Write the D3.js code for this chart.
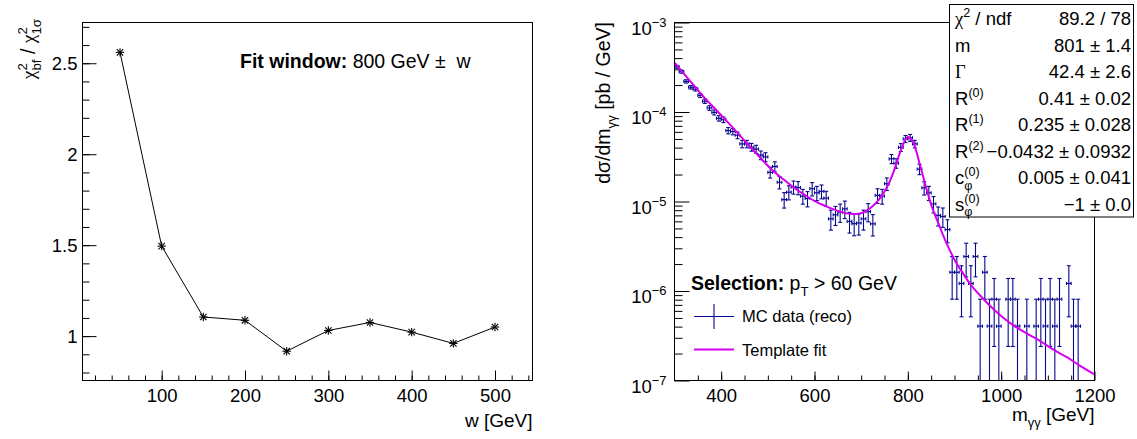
<!DOCTYPE html>
<html>
<head>
<meta charset="utf-8">
<script src="https://cdn.jsdelivr.net/npm/d3@7"></script>
<style>
  body { margin: 0; background: #fff; }
  svg { display: block; }
  text { font-family: "Liberation Sans", Arial, Helvetica, sans-serif; fill: #000; white-space: pre; }
</style>
</head>
<body>
<svg id="canvas" width="1137" height="439"></svg>
<script>
// ---------- left pad: chi2 ratio vs fit-window half width ----------
const windowWidths = [50, 100, 150, 200, 250, 300, 350, 400, 450, 500];
const chi2Ratio    = [2.56, 1.495, 1.105, 1.087, 0.917, 1.031, 1.075, 1.022, 0.960, 1.050];
const leftXTicks   = [100, 200, 300, 400, 500];
const leftYTicks   = [1, 1.5, 2, 2.5];

// ---------- right pad: diphoton mass spectrum with template fit ----------
const massBins = [305,315,325,335,345,355,365,375,385,395,405,415,425,435,445,455,465,475,485,495,
                  505,515,525,535,545,555,565,575,585,595,605,615,625,635,645,655,665,675,685,695,
                  705,715,725,735,745,755,765,775,785,795,805,815,825,835,845,855,865,875,885,895,
                  905,915,925,935,945,955,965,975,985,995,1015,1025,1035,1055,1075,1085,1095,1105,1115,1125,
                  1145,1155,1165];
const xsec = [3.2e-4,2.82e-4,2.2e-4,1.89e-4,1.8e-4,1.53e-4,1.32e-4,1.11e-4,9.9e-5,8.5e-5,
              8.2e-5,6.2e-5,6.05e-5,5.5e-5,4.4e-5,4.4e-5,4.05e-5,3.85e-5,3.3e-5,3.15e-5,
              2.12e-5,2.46e-5,1.64e-5,1.05e-5,1.27e-5,1.45e-5,1.43e-5,1.15e-5,1.08e-5,1.39e-5,
              1.25e-5,1.3e-5,1.09e-5,6.4e-6,7.1e-6,7.6e-6,8.27e-6,6.0e-6,5.65e-6,5.75e-6,
              6.4e-6,7.7e-6,5.63e-6,1.17e-5,1.15e-5,1.58e-5,3.0e-5,2.68e-5,4.03e-5,5.01e-5,
              5.15e-5,4.4e-5,2.3e-5,1.42e-5,1.25e-5,9.4e-6,7.0e-6,6.8e-6,4.86e-6,1.62e-6,
              1.62e-6,1.215e-6,2.43e-6,1.215e-6,2.43e-6,4.05e-7,1.62e-6,4.05e-7,8.1e-7,4.05e-7,
              8.1e-7,8.1e-7,4.05e-7,4.05e-7,4.05e-7,8.1e-7,4.05e-7,8.1e-7,4.05e-7,8.1e-7,
              1.215e-6,4.05e-7,4.05e-7];
const xsecErr = [1.14e-5,1.07e-5,9.4e-6,8.7e-6,8.5e-6,7.9e-6,7.3e-6,6.7e-6,6.3e-6,5.9e-6,
                 5.8e-6,5.0e-6,4.9e-6,4.7e-6,4.2e-6,4.2e-6,4.05e-6,3.95e-6,3.66e-6,3.57e-6,
                 2.93e-6,3.16e-6,2.58e-6,2.06e-6,2.27e-6,2.42e-6,2.41e-6,2.16e-6,2.09e-6,2.37e-6,
                 2.25e-6,2.29e-6,2.1e-6,1.61e-6,1.7e-6,1.75e-6,1.83e-6,1.56e-6,1.51e-6,1.53e-6,
                 1.61e-6,1.77e-6,1.51e-6,2.18e-6,2.16e-6,2.53e-6,3.49e-6,3.29e-6,4.04e-6,4.5e-6,
                 4.57e-6,4.22e-6,3.05e-6,2.4e-6,2.25e-6,1.95e-6,1.68e-6,1.66e-6,1.4e-6,8.1e-7,
                 8.1e-7,7.0e-7,9.9e-7,7.0e-7,9.9e-7,4.05e-7,8.1e-7,4.05e-7,5.7e-7,4.05e-7,
                 5.7e-7,5.7e-7,4.05e-7,4.05e-7,4.05e-7,5.7e-7,4.05e-7,5.7e-7,4.05e-7,5.7e-7,
                 7.0e-7,4.05e-7,4.05e-7];
const binHalfWidth = 5;

const fitMass = [300,330,363,390,416,440,456,480,500,516,534,556,580,606,630,659,681,700,709,725,
                 738,750,759,770,785,800,813,827,838,849,858,866,875,885,900,918,935,955,977,1005,
                 1034,1060,1084,1110,1141,1170,1200];
const fitXsec = [3.55e-4,2.33e-4,1.466e-4,1.047e-4,7.5e-5,5.47e-5,4.42e-5,3.24e-5,2.51e-5,2.09e-5,
                 1.76e-5,1.43e-5,1.175e-5,9.77e-6,8.61e-6,7.59e-6,7.24e-6,7.41e-6,7.76e-6,8.91e-6,
                 1.047e-5,1.29e-5,1.58e-5,2.19e-5,3.72e-5,5.25e-5,4.37e-5,2.45e-5,1.51e-5,9.55e-6,
                 7.08e-6,5.62e-6,4.27e-6,3.24e-6,2.24e-6,1.58e-6,1.17e-6,8.9e-7,6.76e-7,5.0e-7,
                 3.89e-7,3.24e-7,2.75e-7,2.24e-7,1.82e-7,1.45e-7,1.17e-7];

const rightXTicks  = [400, 600, 800, 1000, 1200];
const rightDecades = [-7, -6, -5, -4, -3];

const statLabels = [
  [{t:"χ",serif:true},{t:"2",k:"sup"},{t:" / ndf"}],
  [{t:"m"}],
  [{t:"Γ",serif:true}],
  [{t:"R"},{t:"(0)",k:"sup"}],
  [{t:"R"},{t:"(1)",k:"sup"}],
  [{t:"R"},{t:"(2)",k:"sup"}],
  [{t:"c"},{t:"(0)",k:"sup"},{t:"φ",k:"stack"}],
  [{t:"s"},{t:"(0)",k:"sup"},{t:"φ",k:"stack"}]
];
const statValues = ["89.2 / 78", "801 ± 1.4", "42.4 ± 2.6", "0.41 ± 0.02", "0.235 ± 0.028",
                    "−0.0432 ± 0.0932", "0.005 ± 0.041", "−1 ± 0.0"];

const svg = d3.select("#canvas");
const TICK_FS = 18.5;
const TICK_LABEL_Y = 21.5;   // baseline offset below the frame

// Sequence of text pieces with super/subscripts; returns group and total width.
function rich(parent, parts, size, weightBold) {
  const g = parent.append("g");
  let x = 0, supStart = 0, supW = 0;
  parts.forEach(p => {
    const small = p.k === "sup" || p.k === "sub" || p.k === "stack";
    const fs = small ? size * 0.68 : size;
    const dy = p.k === "sup" ? -size * 0.42 : (p.k === "sub" || p.k === "stack") ? size * 0.3 : 0;
    const px = p.k === "stack" ? supStart : x;
    const t = g.append("text")
      .attr("x", px).attr("y", dy)
      .attr("font-size", fs)
      .text(p.t);
    if (p.bold || weightBold) t.attr("font-weight", "bold");
    if (p.serif) t.style("font-family", "'Liberation Serif', 'Times New Roman', serif");
    const w = t.node().getComputedTextLength();
    if (p.k === "sup") { supStart = px; supW = w; x = px + w; }
    else if (p.k === "stack") { x = Math.max(supStart + supW, px + w); }
    else x = px + w;
  });
  return { g, width: x };
}

// ================= LEFT PAD =================
const xL = d3.scaleLinear([5, 545], [82.5, 532.5]);
const yL = d3.scaleLinear([0.756, 2.724], [380.5, 22.5]);

const left = svg.append("g");

// minor ticks
left.append("g").attr("transform", "translate(0,380.5)")
  .call(d3.axisBottom(xL).tickValues(d3.range(20, 545, 20)).tickSize(-5).tickFormat(""))
  .call(g => g.select(".domain").remove());
left.append("g").attr("transform", "translate(82.5,0)")
  .call(d3.axisLeft(yL).tickValues(d3.range(0.8, 2.72, 0.1)).tickSize(-7).tickFormat(""))
  .call(g => g.select(".domain").remove());
// major ticks + labels
left.append("g").attr("transform", "translate(0,380.5)")
  .call(d3.axisBottom(xL).tickValues(leftXTicks).tickSize(-10).tickFormat(d3.format("d")))
  .call(g => g.select(".domain").remove())
  .call(g => g.selectAll("text").attr("y", TICK_LABEL_Y).attr("dy", 0).attr("font-size", TICK_FS).attr("fill", "#000"));
left.append("g").attr("transform", "translate(82.5,0)")
  .call(d3.axisLeft(yL).tickValues(leftYTicks).tickSize(-14).tickFormat(d => String(d)))
  .call(g => g.select(".domain").remove())
  .call(g => g.selectAll("text").attr("x", -5).attr("dy", "0.36em").attr("font-size", TICK_FS).attr("fill", "#000"));
left.selectAll(".tick line").attr("stroke", "#000");
left.selectAll(".tick text").attr("font-family", null);

left.append("rect").attr("x", 82.5).attr("y", 22.5).attr("width", 450).attr("height", 358)
  .attr("fill", "none").attr("stroke", "#000").attr("stroke-width", 1);

// curve + star markers
left.append("path")
  .datum(windowWidths.map((w, i) => [w, chi2Ratio[i]]))
  .attr("fill", "none").attr("stroke", "#000").attr("stroke-width", 1)
  .attr("d", d3.line().x(d => xL(d[0])).y(d => yL(d[1])));
const star = left.selectAll(".star").data(windowWidths.map((w, i) => [w, chi2Ratio[i]]))
  .join("g").attr("class", "star")
  .attr("transform", d => `translate(${xL(d[0])},${yL(d[1])})`);
const r = 4.2, rd = 3.2;
[[-r,0,r,0],[0,-r,0,r],[-rd,-rd,rd,rd],[-rd,rd,rd,-rd]].forEach(s => {
  star.append("line").attr("x1", s[0]).attr("y1", s[1]).attr("x2", s[2]).attr("y2", s[3])
    .attr("stroke", "#000").attr("stroke-width", 1.1);
});

// annotation
rich(svg.append("g").attr("transform", "translate(240,68)"),
  [{t:"Fit window:", bold:true},{t:" 800 GeV ±  w"}], 19.5);

// axis titles
{
  svg.append("text").attr("x", 532.5).attr("y", 427).attr("text-anchor", "end")
    .attr("font-size", 19).text("w [GeV]");
  const holder = svg.append("g").attr("transform", "translate(35,19) rotate(-90)");
  const lab = rich(holder, [{t:"χ",serif:true},{t:"2",k:"sup"},{t:"bf",k:"stack"},{t:" / "},
                            {t:"χ",serif:true},{t:"2",k:"sup"},{t:"1σ",k:"stack"}], 19.5);
  lab.g.attr("transform", `translate(${-lab.width},0)`);
}

// ================= RIGHT PAD =================
const xR = d3.scaleLinear([300, 1200], [674.5, 1094.5]);
const yR = d3.scaleLog([1e-7, 1e-3], [380.5, 22.5]);
const right = svg.append("g");

const logMinor = [];
rightDecades.slice(0, -1).forEach(e => { for (let k = 2; k <= 9; k++) logMinor.push(k * Math.pow(10, e)); });

right.append("g").attr("transform", "translate(0,380.5)")
  .call(d3.axisBottom(xR).tickValues(d3.range(350, 1200, 50)).tickSize(-5).tickFormat(""))
  .call(g => g.select(".domain").remove());
right.append("g").attr("transform", "translate(674.5,0)")
  .call(d3.axisLeft(yR).tickValues(logMinor).tickSize(-8).tickFormat(""))
  .call(g => g.select(".domain").remove());
right.append("g").attr("transform", "translate(0,380.5)")
  .call(d3.axisBottom(xR).tickValues(rightXTicks).tickSize(-9).tickFormat(d3.format("d")))
  .call(g => g.select(".domain").remove())
  .call(g => g.selectAll("text").attr("y", TICK_LABEL_Y).attr("dy", 0).attr("font-size", TICK_FS).attr("fill", "#000"));
right.append("g").attr("transform", "translate(674.5,0)")
  .call(d3.axisLeft(yR).tickValues(rightDecades.map(e => Math.pow(10, e))).tickSize(-15).tickFormat(""))
  .call(g => g.select(".domain").remove())
  .call(g => g.selectAll(".tick").each(function(d) {
    const e = Math.round(Math.log10(d));
    const t = d3.select(this).append("text").attr("text-anchor", "end")
      .attr("x", -8).attr("y", 11.5).attr("font-size", TICK_FS);
    t.append("tspan").text("10");
    t.append("tspan").attr("dy", -8).attr("font-size", TICK_FS * 0.7).text("−" + Math.abs(e));
  }));
right.selectAll(".tick line").attr("stroke", "#000");
right.selectAll(".tick text").attr("font-family", null);

// data points with error bars
const pts = massBins.map((m, i) => ({ m, v: xsec[i], e: xsecErr[i] }));
const blue = "#06068f";
const yLo = d => yR(Math.max(d.v - d.e, 1e-7));
const yHi = d => yR(d.v + d.e);
const dp = right.append("g").attr("stroke", blue).attr("stroke-width", 1.1).attr("fill", "none");
const pg = dp.selectAll("g").data(pts).join("g");
pg.append("line").attr("x1", d => xR(d.m)).attr("x2", d => xR(d.m)).attr("y1", yLo).attr("y2", yHi);
pg.append("line").attr("x1", d => xR(d.m - binHalfWidth)).attr("x2", d => xR(d.m + binHalfWidth))
  .attr("y1", d => yR(d.v)).attr("y2", d => yR(d.v));
// end caps
pg.append("line").attr("x1", d => xR(d.m) - 2).attr("x2", d => xR(d.m) + 2).attr("y1", yHi).attr("y2", yHi);
pg.filter(d => d.v - d.e > 1e-7).append("line")
  .attr("x1", d => xR(d.m) - 2).attr("x2", d => xR(d.m) + 2).attr("y1", yLo).attr("y2", yLo);
pg.append("line").attr("x1", d => xR(d.m - binHalfWidth)).attr("x2", d => xR(d.m - binHalfWidth))
  .attr("y1", d => yR(d.v) - 1.6).attr("y2", d => yR(d.v) + 1.6);
pg.append("line").attr("x1", d => xR(d.m + binHalfWidth)).attr("x2", d => xR(d.m + binHalfWidth))
  .attr("y1", d => yR(d.v) - 1.6).attr("y2", d => yR(d.v) + 1.6);

// template fit
const magenta = "#d600f0";
right.append("path")
  .datum(fitMass.map((m, i) => [m, fitXsec[i]]))
  .attr("fill", "none").attr("stroke", magenta).attr("stroke-width", 2)
  .attr("d", d3.line().x(d => xR(d[0])).y(d => yR(d[1])).curve(d3.curveMonotoneX));

right.append("rect").attr("x", 674.5).attr("y", 22.5).attr("width", 420).attr("height", 358)
  .attr("fill", "none").attr("stroke", "#000").attr("stroke-width", 1);

// legend
{
  rich(svg.append("g").attr("transform", "translate(691,290)"),
    [{t:"Selection:", bold:true},{t:" p"},{t:"T",k:"sub"},{t:" > 60 GeV"}], 19.5);
  const lg = svg.append("g");
  lg.append("line").attr("x1", 694).attr("x2", 734).attr("y1", 316.5).attr("y2", 316.5)
    .attr("stroke", blue).attr("stroke-width", 1.1);
  lg.append("line").attr("x1", 714).attr("x2", 714).attr("y1", 304).attr("y2", 329)
    .attr("stroke", blue).attr("stroke-width", 1.1);
  lg.append("text").attr("x", 742).attr("y", 322).attr("font-size", 16.5).text("MC data (reco)");
  lg.append("line").attr("x1", 694).attr("x2", 734).attr("y1", 349.5).attr("y2", 349.5)
    .attr("stroke", magenta).attr("stroke-width", 2);
  lg.append("text").attr("x", 742).attr("y", 356).attr("font-size", 16.5).text("Template fit");
}

// axis titles
{
  const holder = svg.append("g").attr("transform", "translate(1094.5,421)");
  const lab = rich(holder, [{t:"m"},{t:"γγ",k:"sub"},{t:" [GeV]"}], 19);
  lab.g.attr("transform", `translate(${-lab.width},0)`);
  const yh = svg.append("g").attr("transform", "translate(610,22) rotate(-90)");
  const yl = rich(yh, [{t:"dσ/dm"},{t:"γγ",k:"sub"},{t:" [pb / GeV]"}], 19.5);
  yl.g.attr("transform", `translate(${-yl.width},0)`);
}

// fit statistics box
{
  const box = svg.append("g");
  box.append("rect").attr("x", 949.5).attr("y", 4.5).attr("width", 184).attr("height", 212.5)
    .attr("fill", "#fff").attr("stroke", "#000").attr("stroke-width", 1);
  statLabels.forEach((parts, i) => {
    const base = 25 + 26.5 * i;
    rich(box.append("g").attr("transform", `translate(955,${base})`), parts, 18.5);
    box.append("text").attr("x", 1131).attr("y", base).attr("text-anchor", "end")
      .attr("font-size", 18.5).text(statValues[i]);
  });
}
</script>
</body>
</html>
